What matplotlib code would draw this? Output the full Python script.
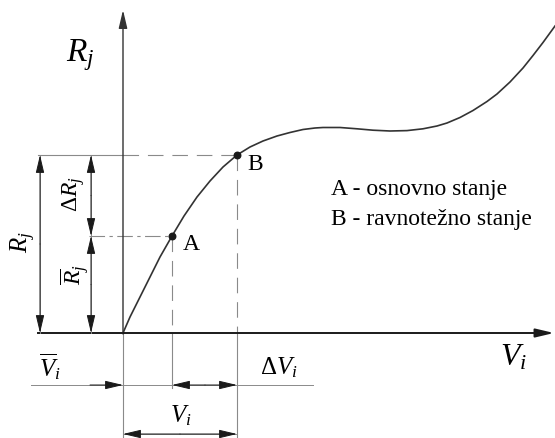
import matplotlib
matplotlib.use("Agg")
import matplotlib.pyplot as plt

plt.rcParams['mathtext.fontset'] = 'custom'
plt.rcParams['mathtext.rm'] = 'Liberation Serif'
plt.rcParams['mathtext.it'] = 'Liberation Serif:italic'
plt.rcParams['font.family'] = ['Liberation Serif', 'DejaVu Serif']

# Curve R_j(V_i) (pixel-space schematic coordinates)
curve_x = [123, 130, 140, 150, 160, 172, 184, 197, 210, 223, 237, 250, 263, 277,
           290, 303, 315, 323, 340, 357, 373, 390, 407, 423, 437, 447, 460, 473,
           487, 497, 510, 523, 533, 543, 555]
curve_y = [334, 318, 298, 278, 258, 237, 217, 198, 182, 168, 156, 148, 142, 137,
           133.5, 130.5, 129, 128.5, 128.5, 129.8, 131.2, 132, 131.6, 129.8, 127, 124,
           118.5, 111.5, 102.5, 95, 83, 69, 56.5, 43.5, 27]

# States
point_names = ["A", "B"]
point_x = [172, 237]
point_y = [237, 156]
origin = (123, 334)

legend_lines = ["A - osnovno stanje", "B - ravnotežno stanje"]

W, H = 555, 439
fig = plt.figure(figsize=(W / 100, H / 100), dpi=100)
ax = fig.add_axes([0, 0, 1, 1])
ax.set_xlim(0, W)
ax.set_ylim(H, 0)
ax.axis('off')

dark = '#1a1a1a'
gray = '#8a8a8a'
ox, oy = origin
(ax_, bx) = point_x
(ay, by) = point_y

def arrow(x0, y0, x1, y1, color=dark, lw=0.9, hl=1.1, hw=0.26):
    ax.annotate('', xy=(x1, y1), xytext=(x0, y0),
                arrowprops=dict(arrowstyle='-|>,head_length=%g,head_width=%g' % (hl, hw),
                                color=color, lw=lw, shrinkA=0, shrinkB=0,
                                mutation_scale=10))

# Axes
arrow(ox, oy + 1, ox, 11, color='#333333', lw=1.0)
ax.plot([38, ox], [oy, oy], color=dark, lw=1.4)
arrow(ox, oy, 554, oy, color=dark, lw=1.4)
ax.plot([ox, ox], [oy, 438], color=gray, lw=0.8)

# Guides
ds = (14, 8)
ax.plot([38, ox], [by, by], color=gray, lw=0.8)
ax.plot([ox, bx], [by, by], color=gray, lw=0.8, dashes=ds)
ax.plot([89, ax_], [ay, ay], color=gray, lw=0.8, dashes=(14, 4, 3, 4))
ax.plot([ax_, ax_], [ay, oy], color=gray, lw=0.8, dashes=ds)
ax.plot([bx, bx], [by, oy], color=gray, lw=0.8, dashes=ds)
ax.plot([ax_, ax_], [oy, 389], color=gray, lw=0.8)
ax.plot([bx, bx], [oy, 438], color=gray, lw=0.8)

# Curve and points
ax.plot(curve_x, curve_y, color='#333333', lw=1.2)
ax.scatter(point_x, point_y, s=22, color=dark, zorder=5)
ax.text(191, 245, point_names[0], fontsize=17, va='center', ha='center')
ax.text(255, 165, point_names[1], fontsize=17, va='center', ha='center')

# Vertical dimension lines
ax.plot([40, 40], [by, oy], color=gray, lw=0.7)
arrow(40, (by + oy) / 2, 40, by, lw=0.7)
arrow(40, (by + oy) / 2, 40, oy, lw=0.7)
ax.plot([91, 91], [by, oy], color=gray, lw=0.7)
arrow(91, (by + ay) / 2, 91, by, lw=0.7)
arrow(91, (by + ay) / 2, 91, ay, lw=0.7)
arrow(91, (ay + oy) / 2, 91, ay, lw=0.7)
arrow(91, (ay + oy) / 2, 91, oy, lw=0.7)

ax.text(23, 242, r'$R_j$', fontsize=18, rotation=90, ha='center', va='center')
ax.text(74, 194, r'$\Delta R_j$', fontsize=17, rotation=90, ha='center', va='center')
ax.text(75, 275, r'$\overline{R}_j$', fontsize=17, rotation=90, ha='center', va='center')

# Horizontal dimension lines
dy1 = 386
ax.plot([31, 313], [dy1, dy1], color=gray, lw=0.7)
arrow(90, dy1, ox, dy1, lw=0.7)
arrow(205, dy1, ax_, dy1, lw=0.7)
arrow(205, dy1, bx, dy1, lw=0.7)
dy2 = 435
ax.plot([ox, bx], [dy2, dy2], color=gray, lw=0.7)
arrow((ox + bx) / 2, dy2, ox, dy2, lw=0.7)
arrow((ox + bx) / 2, dy2, bx, dy2, lw=0.7)

ax.text(50, 367, r'$\overline{V}_i$', fontsize=18, ha='center', va='center')
ax.text(279, 368, r'$\Delta V_i$', fontsize=18, ha='center', va='center')
ax.text(181, 416, r'$V_i$', fontsize=18, ha='center', va='center')

# Axis titles
ax.text(80, 55, r'$R_j$', fontsize=24, ha='center', va='center')
ax.text(514, 358, r'$V_i$', fontsize=23, ha='center', va='center')

# Legend text
ax.text(331, 190, legend_lines[0], fontsize=17, ha='left', va='center')
ax.text(331, 220, legend_lines[1], fontsize=17, ha='left', va='center')

fig.savefig('out.png', dpi=100)
